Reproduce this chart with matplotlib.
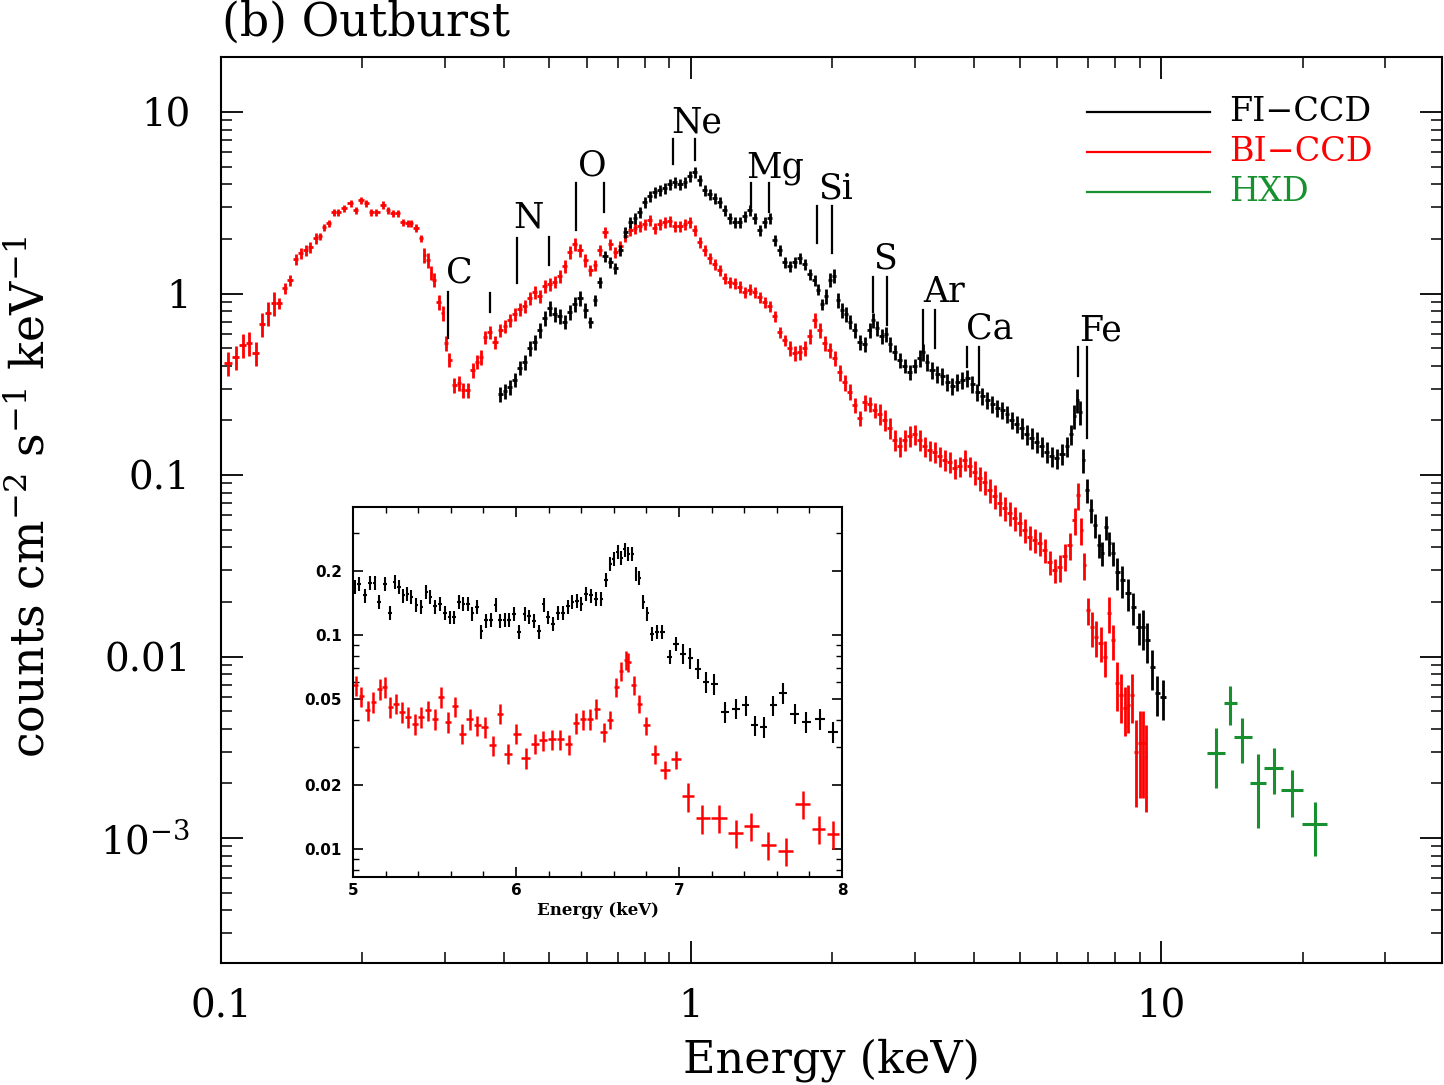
"""
Outburst X-ray spectrum (FI-CCD / BI-CCD / HXD) with Fe-K inset
"""

import numpy as np
import matplotlib
matplotlib.use("Agg")
import matplotlib.pyplot as plt
from matplotlib.ticker import FixedLocator, FixedFormatter, LogLocator, NullFormatter, MultipleLocator

plt.rcParams['font.family'] = 'DejaVu Serif'
plt.rcParams['mathtext.fontset'] = 'dejavuserif'

# ---- data (energy keV, counts cm-2 s-1 keV-1) ----
# BI-CCD, low energy part (sparse crosses)
bi_low = [(0.1035, 0.414), (0.1076, 0.447), (0.1114, 0.520), (0.1147, 0.533), (0.1187, 0.470),
          (0.1222, 0.679), (0.1259, 0.781), (0.1297, 0.887), (0.1328, 0.887), (0.1368, 1.07),
          (0.1402, 1.19), (0.1444, 1.55), (0.1479, 1.67), (0.1517, 1.74), (0.1546, 1.80),
          (0.1592, 2.02), (0.1624, 2.07), (0.1656, 2.32), (0.1698, 2.44), (0.1739, 2.81),
          (0.1774, 2.81), (0.1827, 2.96), (0.1891, 3.15), (0.1937, 2.88), (0.1986, 3.27),
          (0.2036, 3.15), (0.2086, 2.81), (0.2138, 2.81), (0.2213, 3.08), (0.2266, 2.88),
          (0.2322, 2.78), (0.2380, 2.78), (0.2439, 2.48), (0.2500, 2.44), (0.2537, 2.44),
          (0.2600, 2.30), (0.2665, 2.02), (0.2705, 1.63), (0.2759, 1.53), (0.2797, 1.30),
          (0.2838, 1.19), (0.2909, 0.897), (0.2966, 0.781), (0.3013, 0.533), (0.3058, 0.431),
          (0.3133, 0.313), (0.3210, 0.321), (0.3273, 0.294), (0.3354, 0.294), (0.3437, 0.379),
          (0.3506, 0.420), (0.3577, 0.447)]
# BI-CCD, dense part
bi_mid = [(0.365, 0.576), (0.373, 0.614), (0.383, 0.540), (0.393, 0.629), (0.402, 0.662),
          (0.412, 0.714), (0.422, 0.771), (0.433, 0.822), (0.443, 0.853), (0.454, 0.944),
          (0.466, 1.02), (0.477, 0.969), (0.489, 1.10), (0.501, 1.13), (0.513, 1.16),
          (0.526, 1.25), (0.539, 1.42), (0.553, 1.69), (0.566, 1.87), (0.581, 1.74),
          (0.595, 1.53), (0.610, 1.35), (0.625, 1.44), (0.640, 1.74), (0.656, 2.18),
          (0.673, 1.87), (0.689, 1.69), (0.707, 1.83), (0.724, 2.07), (0.742, 2.24),
          (0.760, 2.30), (0.778, 2.35), (0.798, 2.42), (0.818, 2.54), (0.838, 2.30),
          (0.859, 2.42), (0.880, 2.48), (0.902, 2.51), (0.924, 2.35), (0.948, 2.35),
          (0.971, 2.42), (0.995, 2.48), (1.020, 2.24), (1.045, 1.92), (1.071, 1.74),
          (1.097, 1.57), (1.124, 1.45), (1.153, 1.35), (1.181, 1.22), (1.210, 1.16),
          (1.240, 1.14), (1.271, 1.09), (1.302, 1.02), (1.335, 1.05), (1.368, 1.02),
          (1.402, 0.956), (1.437, 0.898), (1.472, 0.853), (1.509, 0.752), (1.546, 0.614),
          (1.585, 0.554), (1.624, 0.501), (1.664, 0.470), (1.705, 0.476), (1.748, 0.501),
          (1.791, 0.583), (1.835, 0.714), (1.881, 0.629), (1.927, 0.534), (1.975, 0.488),
          (2.024, 0.441), (2.074, 0.369), (2.126, 0.325), (2.178, 0.287), (2.232, 0.243),
          (2.288, 0.206), (2.344, 0.252), (2.402, 0.246), (2.462, 0.228), (2.523, 0.217),
          (2.585, 0.201), (2.649, 0.182), (2.715, 0.156), (2.782, 0.144), (2.851, 0.156),
          (2.922, 0.164), (2.994, 0.168), (3.068, 0.156), (3.144, 0.144), (3.222, 0.137),
          (3.302, 0.134), (3.384, 0.127), (3.468, 0.121), (3.554, 0.118), (3.642, 0.109),
          (3.732, 0.112), (3.825, 0.121), (3.919, 0.112), (4.017, 0.104), (4.116, 0.0963),
          (4.218, 0.0915), (4.322, 0.0827), (4.429, 0.0766), (4.539, 0.0701), (4.652, 0.0658),
          (4.767, 0.0617), (4.885, 0.0580), (5.006, 0.0544), (5.130, 0.0498), (5.257, 0.0455),
          (5.388, 0.0439), (5.521, 0.0422), (5.658, 0.0386), (5.798, 0.0332), (5.942, 0.0300),
          (6.089, 0.0311), (6.240, 0.0358), (6.394, 0.0411), (6.553, 0.0565), (6.66, 0.0776),
          (6.76, 0.0498), (6.86, 0.0319)]
bi_high = [(7.00, 0.0180), (7.13, 0.0145), (7.27, 0.0128), (7.45, 0.0119), (7.60, 0.00994),
           (7.75, 0.0174), (7.90, 0.0123), (8.06, 0.00714), (8.22, 0.00614), (8.38, 0.00520),
           (8.51, 0.00540), (8.68, 0.00614), (8.85, 0.00298), (9.02, 0.00334), (9.16, 0.00334),
           (9.29, 0.00279)]

# FI-CCD
fi_spec = [(0.393, 0.279), (0.402, 0.290), (0.412, 0.305), (0.422, 0.334), (0.433, 0.389),
           (0.443, 0.419), (0.454, 0.501), (0.466, 0.540), (0.477, 0.629), (0.489, 0.733),
           (0.501, 0.832), (0.513, 0.771), (0.526, 0.752), (0.539, 0.697), (0.553, 0.791),
           (0.566, 0.875), (0.581, 0.944), (0.595, 0.811), (0.610, 0.697), (0.625, 0.921),
           (0.640, 1.16), (0.656, 1.61), (0.673, 1.49), (0.689, 1.38), (0.707, 1.74),
           (0.724, 2.18), (0.742, 2.48), (0.760, 2.61), (0.778, 2.81), (0.798, 3.19),
           (0.818, 3.45), (0.838, 3.62), (0.859, 3.72), (0.880, 3.81), (0.902, 4.01),
           (0.924, 4.11), (0.948, 4.01), (0.971, 4.11), (0.995, 4.44), (1.020, 4.67),
           (1.045, 4.22), (1.071, 3.72), (1.097, 3.53), (1.124, 3.36), (1.153, 3.19),
           (1.181, 2.88), (1.210, 2.61), (1.240, 2.48), (1.271, 2.48), (1.302, 2.67),
           (1.335, 2.88), (1.368, 2.61), (1.402, 2.24), (1.437, 2.48), (1.472, 2.61),
           (1.509, 1.97), (1.546, 1.74), (1.585, 1.49), (1.624, 1.42), (1.664, 1.49),
           (1.705, 1.57), (1.748, 1.45), (1.791, 1.28), (1.835, 1.19), (1.863, 1.05),
           (1.900, 0.875), (1.937, 0.969), (1.975, 1.19), (2.015, 1.25), (2.055, 0.921),
           (2.096, 0.811), (2.137, 0.771), (2.178, 0.697), (2.232, 0.629), (2.288, 0.540),
           (2.344, 0.527), (2.402, 0.629), (2.439, 0.714), (2.487, 0.645), (2.548, 0.583),
           (2.599, 0.598), (2.649, 0.527), (2.715, 0.476), (2.782, 0.430), (2.851, 0.399),
           (2.922, 0.369), (2.994, 0.399), (3.068, 0.441), (3.116, 0.476), (3.177, 0.419),
           (3.257, 0.379), (3.338, 0.360), (3.420, 0.351), (3.505, 0.325), (3.592, 0.309),
           (3.681, 0.325), (3.772, 0.334), (3.866, 0.342), (3.962, 0.317), (4.060, 0.287),
           (4.160, 0.272), (4.264, 0.259), (4.369, 0.246), (4.478, 0.234), (4.589, 0.228),
           (4.702, 0.217), (4.819, 0.201), (4.938, 0.191), (5.061, 0.182), (5.186, 0.168),
           (5.314, 0.160), (5.447, 0.152), (5.581, 0.144), (5.720, 0.134), (5.862, 0.127),
           (6.007, 0.124), (6.156, 0.131), (6.310, 0.144), (6.434, 0.168), (6.530, 0.211),
           (6.627, 0.259), (6.725, 0.222), (6.823, 0.121), (6.960, 0.0827), (7.098, 0.0641),
           (7.238, 0.0530), (7.381, 0.0411), (7.490, 0.0372), (7.638, 0.0517), (7.751, 0.0422),
           (7.904, 0.0372), (8.060, 0.0292), (8.260, 0.0264), (8.506, 0.0224), (8.717, 0.0187),
           (8.978, 0.0145), (9.156, 0.0145), (9.337, 0.0123), (9.571, 0.00875), (9.805, 0.00629),
           (10.10, 0.00598)]

# relative 1-sigma error, per energy band (upper band edges in keV)
bi_err_edges = [0.13, 0.16, 0.27, 0.36, 0.6, 1.6, 2.5, 4.0, 6.0, 7.0, 8.0, 8.8]
bi_err_vals = [0.15, 0.07, 0.045, 0.09, 0.08, 0.07, 0.10, 0.13, 0.15, 0.17, 0.22, 0.30, 0.50]
fi_err_edges = [0.6, 1.9, 3.0, 5.0, 6.5, 8.0, 9.0]
fi_err_vals = [0.09, 0.07, 0.09, 0.11, 0.13, 0.15, 0.20, 0.25]

# HXD
hxd_e = [13.1, 14.0, 14.9, 16.1, 17.4, 19.0, 21.3]
hxd_e_lo = [0.6, 0.4, 0.6, 0.6, 0.8, 1.0, 1.4]
hxd_e_hi = [0.6, 0.5, 0.7, 0.6, 0.8, 1.0, 1.3]
hxd_f = [2.94e-3, 5.54e-3, 3.60e-3, 2.01e-3, 2.43e-3, 1.84e-3, 1.19e-3]
hxd_f_lo = [1.88e-3, 4.20e-3, 2.59e-3, 1.14e-3, 1.75e-3, 1.31e-3, 7.96e-4]
hxd_f_hi = [4.04e-3, 6.87e-3, 4.58e-3, 2.90e-3, 3.13e-3, 2.37e-3, 1.58e-3]

# inset, 5-8 keV
fi_inset = [(5.010, 0.168), (5.037, 0.173), (5.072, 0.153), (5.102, 0.175), (5.133, 0.175),
            (5.160, 0.143), (5.194, 0.173), (5.229, 0.127), (5.256, 0.177), (5.282, 0.168),
            (5.307, 0.153), (5.331, 0.156), (5.358, 0.151), (5.389, 0.138), (5.419, 0.135),
            (5.450, 0.159), (5.474, 0.151), (5.501, 0.136), (5.532, 0.140), (5.562, 0.127),
            (5.593, 0.121), (5.618, 0.121), (5.650, 0.143), (5.675, 0.140), (5.706, 0.140),
            (5.732, 0.126), (5.761, 0.135), (5.787, 0.104), (5.818, 0.117), (5.845, 0.118),
            (5.875, 0.138), (5.900, 0.117), (5.930, 0.118), (5.957, 0.118), (5.986, 0.125),
            (6.018, 0.103), (6.053, 0.125), (6.080, 0.122), (6.110, 0.116), (6.141, 0.104),
            (6.170, 0.139), (6.196, 0.121), (6.227, 0.113), (6.258, 0.127), (6.288, 0.127),
            (6.319, 0.136), (6.346, 0.143), (6.374, 0.144), (6.401, 0.140), (6.431, 0.156),
            (6.462, 0.153), (6.493, 0.148), (6.524, 0.148), (6.554, 0.181), (6.579, 0.215),
            (6.599, 0.227), (6.626, 0.244), (6.646, 0.230), (6.667, 0.251), (6.687, 0.240),
            (6.714, 0.240), (6.738, 0.193), (6.755, 0.185), (6.779, 0.143), (6.804, 0.126),
            (6.834, 0.101), (6.865, 0.103), (6.896, 0.103), (6.943, 0.0789), (6.980, 0.0911),
            (7.025, 0.0818), (7.070, 0.0783), (7.117, 0.0696), (7.168, 0.0603), (7.213, 0.0592),
            (7.280, 0.0437), (7.352, 0.0453), (7.409, 0.0469), (7.464, 0.0378), (7.519, 0.0372),
            (7.577, 0.0469), (7.638, 0.0536), (7.710, 0.0429), (7.781, 0.0392), (7.863, 0.0406),
            (7.945, 0.0352)]
bi_inset = [(5.016, 0.0582), (5.051, 0.0517), (5.092, 0.0445), (5.123, 0.0486), (5.164, 0.0561),
            (5.194, 0.0571), (5.229, 0.0461), (5.262, 0.0478), (5.303, 0.0437), (5.337, 0.0414),
            (5.378, 0.0385), (5.419, 0.0414), (5.460, 0.0445), (5.501, 0.0406), (5.542, 0.0513),
            (5.583, 0.0392), (5.624, 0.0464), (5.671, 0.0346), (5.716, 0.0406), (5.761, 0.0378),
            (5.808, 0.0372), (5.859, 0.0305), (5.900, 0.0429), (5.951, 0.0279), (6.002, 0.0346),
            (6.059, 0.0267), (6.115, 0.0311), (6.166, 0.0322), (6.221, 0.0325), (6.272, 0.0325),
            (6.323, 0.0308), (6.370, 0.0388), (6.411, 0.0404), (6.456, 0.0406), (6.493, 0.0453),
            (6.538, 0.0352), (6.579, 0.0402), (6.616, 0.0571), (6.646, 0.0679), (6.673, 0.0761),
            (6.687, 0.0748), (6.722, 0.0582), (6.755, 0.0478), (6.796, 0.0378), (6.851, 0.0277),
            (6.912, 0.0235), (6.980, 0.0262), (7.055, 0.0176), (7.143, 0.0139), (7.245, 0.0140),
            (7.348, 0.0119), (7.444, 0.0128), (7.546, 0.0104), (7.654, 0.00979), (7.761, 0.0162),
            (7.859, 0.0124), (7.945, 0.0118)]
fi_inset_err_edges = [7.0]
fi_inset_err_vals = [0.075, 0.11]
bi_inset_err_edges = [6.5, 7.0]
bi_inset_err_vals = [0.11, 0.10, 0.15]

# emission line markers: (energy, bottom, top) and labels (text, energy, flux)
line_marks = [(0.304, 0.568, 1.02), (0.373, 0.79, 1.01), (0.426, 1.14, 2.02), (0.499, 1.44, 2.05),
              (0.569, 2.24, 4.06), (0.653, 2.81, 4.06), (0.916, 5.20, 7.14), (1.02, 5.47, 7.14),
              (1.342, 3.00, 4.06), (1.466, 2.81, 4.06), (1.85, 1.90, 3.03), (2.00, 1.67, 3.03),
              (2.44, 0.791, 1.23), (2.61, 0.671, 1.23), (3.12, 0.470, 0.811), (3.30, 0.501, 0.811),
              (3.87, 0.394, 0.507), (4.10, 0.313, 0.507), (6.65, 0.351, 0.507), (6.95, 0.160, 0.507)]
line_labels = [('C', 0.321, 1.30), ('N', 0.450, 2.61), ('O', 0.616, 5.11), ('Ne', 1.030, 8.81),
               ('Mg', 1.509, 4.92), ('Si', 2.025, 3.81), ('S', 2.587, 1.57), ('Ar', 3.454, 1.02),
               ('Ca', 4.327, 0.645), ('Fe', 7.418, 0.629)]

legend_names = ['FI\u2212CCD', 'BI\u2212CCD', 'HXD']
c_fi = '#000000'
c_bi = '#ff0000'
c_hxd = '#17902f'


def bin_halfwidths(e, log=True, scale=1.0):
    # half distance to the neighbouring bins
    e = np.asarray(e, float)
    if log:
        mid = np.sqrt(e[:-1] * e[1:])
        left = np.r_[e[0] ** 2 / mid[0], mid]
        right = np.r_[mid, e[-1] ** 2 / mid[-1]]
    else:
        mid = 0.5 * (e[:-1] + e[1:])
        left = np.r_[2 * e[0] - mid[0], mid]
        right = np.r_[mid, 2 * e[-1] - mid[-1]]
    return np.vstack([(e - left) * scale, (right - e) * scale])


def band_err(e, f, edges, vals):
    rel = np.asarray(vals)[np.searchsorted(edges, e)]
    return rel * np.asarray(f)


bi_e, bi_f = np.array(bi_low + bi_mid + bi_high).T
fi_e, fi_f = np.array(fi_spec).T
fii_e, fii_f = np.array(fi_inset).T
bii_e, bii_f = np.array(bi_inset).T

fig = plt.figure(figsize=(14.44, 10.85), dpi=100)
ax = fig.add_axes([0.1530, 0.1124, 0.8456, 0.8350])
ax.set_xscale('log')
ax.set_yscale('log')

ax.errorbar(bi_e, bi_f, xerr=bin_halfwidths(bi_e, scale=1.0),
            yerr=band_err(bi_e, bi_f, bi_err_edges, bi_err_vals),
            fmt='none', ecolor=c_bi, elinewidth=2.0, capsize=0, zorder=2)
ax.errorbar(fi_e, fi_f, xerr=bin_halfwidths(fi_e, scale=1.0),
            yerr=band_err(fi_e, fi_f, fi_err_edges, fi_err_vals),
            fmt='none', ecolor=c_fi, elinewidth=2.0, capsize=0, zorder=3)
hxd_f_arr = np.array(hxd_f)
ax.errorbar(hxd_e, hxd_f, xerr=[hxd_e_lo, hxd_e_hi],
            yerr=[hxd_f_arr - np.array(hxd_f_lo), np.array(hxd_f_hi) - hxd_f_arr],
            fmt='none', ecolor=c_hxd, elinewidth=2.2, capsize=0, zorder=3)

for e, lo, hi in line_marks:
    ax.plot([e, e], [lo, hi], color='k', lw=1.6, zorder=4)
for txt, e, f in line_labels:
    ax.text(e, f, txt, ha='center', va='center', fontsize=25, zorder=4)

ax.set_xlim(0.1, 39.6)
ax.set_ylim(2.05e-4, 20.1)

ax.xaxis.set_major_locator(FixedLocator([0.1, 1, 10]))
ax.xaxis.set_major_formatter(FixedFormatter(['0.1', '1', '10']))
ax.xaxis.set_minor_locator(LogLocator(base=10, subs=np.arange(2, 10)))
ax.xaxis.set_minor_formatter(NullFormatter())
ax.yaxis.set_major_locator(FixedLocator([1e-3, 1e-2, 0.1, 1, 10]))
ax.yaxis.set_major_formatter(FixedFormatter([r'$10^{-3}$', '0.01', '0.1', '1', '10']))
ax.yaxis.set_minor_locator(LogLocator(base=10, subs=np.arange(2, 10)))
ax.yaxis.set_minor_formatter(NullFormatter())

ax.tick_params(which='both', direction='in', top=True, right=True)
ax.tick_params(which='major', length=16, width=1.3, labelsize=28)
ax.tick_params(which='minor', length=8, width=1.1)
ax.tick_params(axis='x', which='major', pad=18)
ax.tick_params(axis='y', which='major', pad=22)
for sp in ax.spines.values():
    sp.set_linewidth(1.5)

# legend drawn by hand
for k, (name, col) in enumerate(zip(legend_names, [c_fi, c_bi, c_hxd])):
    yy = 0.939 - k * 0.044
    ax.plot([0.709, 0.810], [yy, yy], transform=ax.transAxes, color=col, lw=1.6)
    ax.text(0.826, yy, name, transform=ax.transAxes, color=col, fontsize=24, va='center', ha='left')

fig.text(0.5755, 0.023, 'Energy (keV)', fontsize=32, ha='center', va='center')
fig.text(0.022, 0.542, r'counts cm$^{-2}$ s$^{-1}$ keV$^{-1}$', fontsize=33,
         rotation=90, ha='center', va='center')
fig.text(0.1537, 0.979, '(b) Outburst', fontsize=33, ha='left', va='center')

# ---- inset ----
axi = fig.add_axes([0.2445, 0.1917, 0.3386, 0.341])
axi.set_yscale('log')
axi.errorbar(bii_e, bii_f, xerr=bin_halfwidths(bii_e, log=False, scale=0.9),
             yerr=band_err(bii_e, bii_f, bi_inset_err_edges, bi_inset_err_vals),
             fmt='none', ecolor=c_bi, elinewidth=1.8, capsize=0)
axi.errorbar(fii_e, fii_f, xerr=bin_halfwidths(fii_e, log=False, scale=0.75),
             yerr=band_err(fii_e, fii_f, fi_inset_err_edges, fi_inset_err_vals),
             fmt='none', ecolor=c_fi, elinewidth=1.5, capsize=0)
axi.set_xlim(5, 8)
axi.set_ylim(0.0074, 0.396)
axi.xaxis.set_major_locator(FixedLocator([5, 6, 7, 8]))
axi.xaxis.set_major_formatter(FixedFormatter(['5', '6', '7', '8']))
axi.xaxis.set_minor_locator(MultipleLocator(0.2))
axi.yaxis.set_major_locator(FixedLocator([0.01, 0.02, 0.05, 0.1, 0.2]))
axi.yaxis.set_major_formatter(FixedFormatter(['0.01', '0.02', '0.05', '0.1', '0.2']))
axi.yaxis.set_minor_locator(FixedLocator([0.008, 0.009, 0.03, 0.04, 0.06, 0.07, 0.08, 0.09, 0.3]))
axi.yaxis.set_minor_formatter(NullFormatter())
axi.tick_params(which='both', direction='in', top=True, right=True)
axi.tick_params(which='major', length=7, width=1.2, labelsize=11)
axi.tick_params(which='minor', length=4.5, width=1.0)
axi.tick_params(axis='x', which='major', pad=4)
axi.tick_params(axis='y', which='major', pad=8)
for lab in axi.get_xticklabels() + axi.get_yticklabels():
    lab.set_fontweight('bold')
    lab.set_family('DejaVu Sans')
axi.set_xlabel('Energy (keV)', fontsize=12, fontweight='bold', labelpad=3)
for sp in axi.spines.values():
    sp.set_linewidth(1.5)

fig.savefig('out.png', dpi=100)
